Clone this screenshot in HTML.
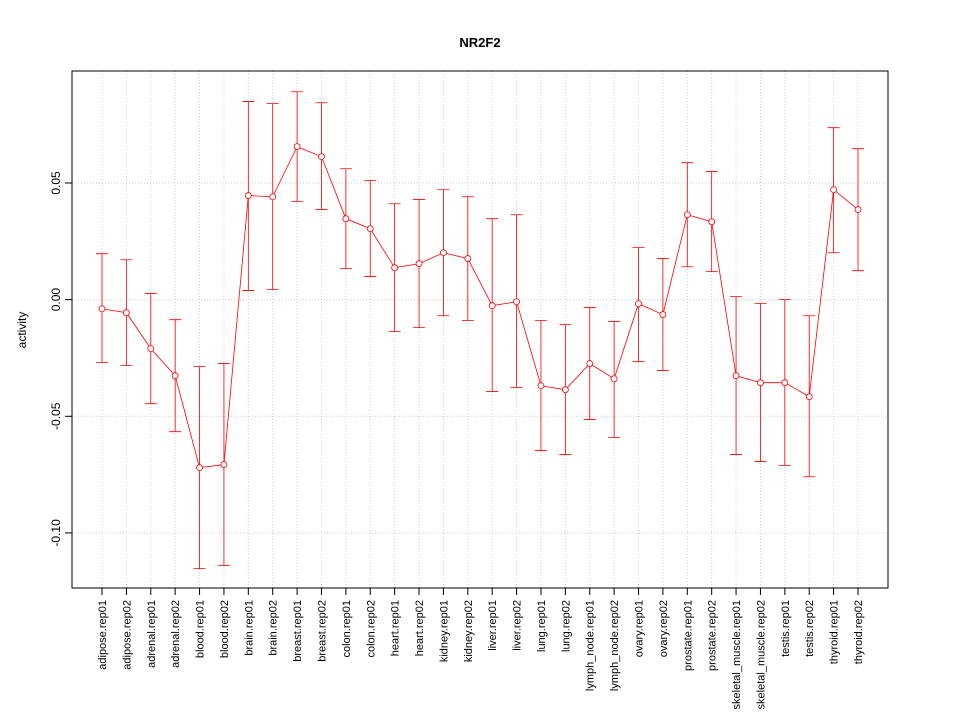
<!DOCTYPE html>
<html><head><meta charset="utf-8"><style>
body{margin:0;background:#fff}
svg{font-family:"Liberation Sans",Arial,sans-serif}
</style></head><body>
<svg id="chart" width="960" height="720">
<rect width="960" height="720" fill="#fff"/>
<text x="480" y="47" text-anchor="middle" font-weight="bold" font-size="13">NR2F2</text>
<text transform="translate(26,330) rotate(-90)" text-anchor="middle" font-size="12">activity</text>
<g id="grid"></g><g id="axes"></g><g id="marks"></g>
</svg>
<script>
const categories=["adipose.rep01","adipose.rep02","adrenal.rep01","adrenal.rep02","blood.rep01","blood.rep02","brain.rep01","brain.rep02","breast.rep01","breast.rep02","colon.rep01","colon.rep02","heart.rep01","heart.rep02","kidney.rep01","kidney.rep02","liver.rep01","liver.rep02","lung.rep01","lung.rep02","lymph_node.rep01","lymph_node.rep02","ovary.rep01","ovary.rep02","prostate.rep01","prostate.rep02","skeletal_muscle.rep01","skeletal_muscle.rep02","testis.rep01","testis.rep02","thyroid.rep01","thyroid.rep02"];
const values=[-0.0039,-0.0056,-0.021,-0.0326,-0.072,-0.0707,0.0446,0.0441,0.0656,0.0613,0.0347,0.0304,0.0137,0.0154,0.0201,0.0176,-0.0026,-0.0009,-0.0369,-0.0386,-0.0274,-0.0339,-0.0017,-0.0064,0.0364,0.0334,-0.0326,-0.0356,-0.0356,-0.0416,0.0471,0.0386];
const upper=[0.0197,0.0171,0.0026,-0.0086,-0.0287,-0.0274,0.0849,0.084,0.0891,0.0844,0.0561,0.051,0.0411,0.0429,0.0471,0.0441,0.0347,0.0364,-0.009,-0.0107,-0.0034,-0.0094,0.0223,0.0176,0.0587,0.0549,0.0013,-0.0017,0,-0.0069,0.0737,0.0647];
const lower=[-0.027,-0.0283,-0.0446,-0.0566,-0.1153,-0.114,0.0039,0.0043,0.042,0.0386,0.0133,0.0099,-0.0137,-0.012,-0.0069,-0.009,-0.0394,-0.0377,-0.0647,-0.0664,-0.0514,-0.0591,-0.0266,-0.0304,0.0141,0.012,-0.0664,-0.0694,-0.0711,-0.0759,0.0201,0.0124];
const yTicks=[-0.10,-0.05,0.00,0.05];
const yTickLabels=["-0.10","-0.05","0.00","0.05"];

const NS="http://www.w3.org/2000/svg";
const L=72,R=888,T=71,B=588;
const yMin=-0.1236,yMax=0.098;
function y(v){return B-(v-yMin)/(yMax-yMin)*(B-T);}
function x(i){return 102+i*(858-102)/(categories.length-1);}
function mk(tag,attrs,parent){const e=document.createElementNS(NS,tag);for(const k in attrs)e.setAttribute(k,attrs[k]);parent.appendChild(e);return e;}
const grid=document.getElementById('grid'),axes=document.getElementById('axes'),marks=document.getElementById('marks');
yTicks.forEach((t,k)=>{
  const g=mk('line',{x1:L,x2:R,y1:y(t),y2:y(t),stroke:'#ccc','stroke-dasharray':'1,2'},grid);
  
  
  const tk=mk('line',{x1:L-7,x2:L,y1:y(t),y2:y(t),stroke:'#000'},axes);
  
  
  const tx=mk('text',{transform:`translate(${L-12},${y(t)}) rotate(-90)`,'text-anchor':'middle','font-size':'12'},axes);
  tx.textContent=yTickLabels[k];
  
  
});
categories.forEach((c,i)=>{
  const g=mk('line',{x1:x(i),x2:x(i),y1:T,y2:B,stroke:'#ccc','stroke-dasharray':'1,2'},grid);
  
  
  const tk=mk('line',{x1:x(i),x2:x(i),y1:B,y2:B+7,stroke:'#000'},axes);
  
  
  const tx=mk('text',{transform:`translate(${x(i)+4},${B+12}) rotate(-90)`,'text-anchor':'end','font-size':'11'},axes);
  tx.textContent=c;
  
  
});
const frame=mk('rect',{x:L,y:T,width:R-L,height:B-T,fill:'none',stroke:'#000'},axes);


const bl=mk('line',{x1:x(0),x2:x(categories.length-1),y1:B,y2:B,stroke:'#000'},axes);


const ln=mk('polyline',{points:values.map((v,i)=>x(i)+','+y(v)).join(' '),fill:'none',stroke:'#f00','stroke-width':'0.8'},marks);


values.forEach((v,i)=>{
  const xi=x(i);
  const eb=mk('path',{d:`M${xi},${y(upper[i])}V${y(lower[i])}M${xi-6},${y(upper[i])}H${xi+6}M${xi-6},${y(lower[i])}H${xi+6}`,stroke:'#f00',fill:'none','stroke-width':'0.8'},marks);
  
  
  const p=mk('circle',{cx:xi,cy:y(v),r:3,fill:'#fff',stroke:'#f00','stroke-width':'0.8'},marks);
  
  
});
</script>
</body></html>
